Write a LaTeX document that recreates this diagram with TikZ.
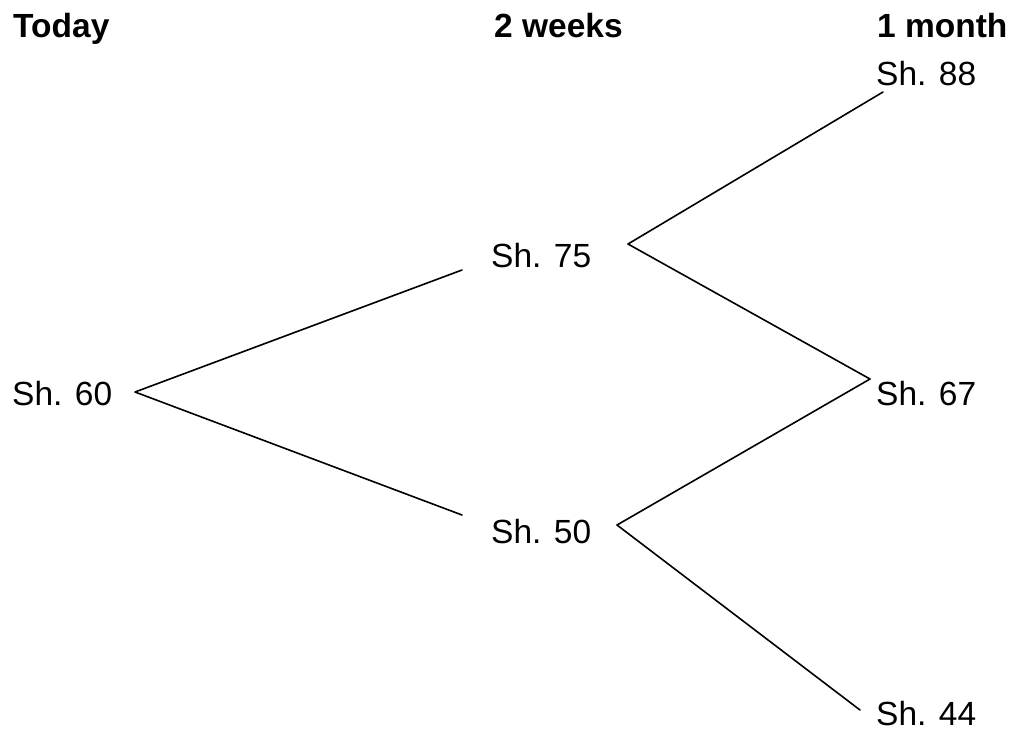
\documentclass[tikz,border=0pt]{standalone}
\usepackage{fontspec}
\setmainfont{Liberation Sans}
\begin{document}
\begin{tikzpicture}[x=1pt,y=-1pt,
  lbl/.style={anchor=base west,inner sep=0pt,font=\fontsize{33.5}{36}\selectfont},
  head/.style={lbl,font=\fontsize{33.5}{36}\selectfont\bfseries},
  branch/.style={line width=1.6pt,line cap=round,line join=round}]
\useasboundingbox[fill=white] (0,0) rectangle (1016,729);
\node[head] (today) at (13,37) {Today};
\node[head] (weeks) at (494,37) {2 weeks};
\node[head] (month) at (877,37) {1 month};
\node[lbl] (s88) at (876,85) {Sh. 88};
\node[lbl] (s75) at (491,267) {Sh. 75};
\node[lbl] (s60) at (12,405) {Sh. 60};
\node[lbl] (s67) at (876,405) {Sh. 67};
\node[lbl] (s50) at (491,543) {Sh. 50};
\node[lbl] (s44) at (876,725) {Sh. 44};
\coordinate (v60) at (135,392);
\coordinate (a75) at (462,270);
\coordinate (a50) at (462,515);
\coordinate (v75) at (628,244);
\coordinate (v50) at (617,525);
\coordinate (a88) at (883,92);
\coordinate (a67) at (870,379);
\coordinate (a44) at (860,710);
\draw[branch] (a75) -- (v60) -- (a50);
\draw[branch] (a88) -- (v75) -- (a67);
\draw[branch] (a67) -- (v50) -- (a44);
\end{tikzpicture}
\end{document}
